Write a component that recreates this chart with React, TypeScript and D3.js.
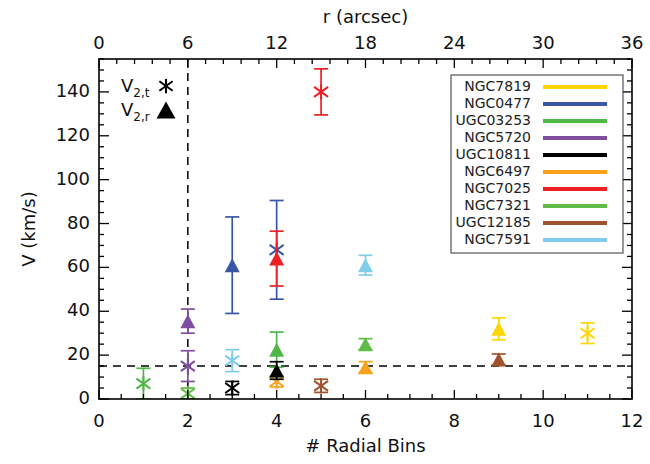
import React from "react";
import * as d3 from "d3";

const galaxies = ["NGC7819","NGC0477","UGC03253","NGC5720","UGC10811","NGC6497","NGC7025","NGC7321","UGC12185","NGC7591"];
const colors = ["#FFD600","#3A55A4","#4DB848","#7E4FA0","#000000","#F7A21C","#EE1F25","#5FBC47","#A0522D","#7FCDEB"];

// V2,t (asterisks)
const tBins = [11, 4, 1, 2, 3, 4, 5, 2, 5, 3];
const tV = [30, 68, 7, 15, 5, 8, 140, 2.5, 6, 17.5];
const tErr = [4.7, 22.5, 7, 7, 3, 2.5, 10.5, 2.5, 3, 5];
// V2,r (triangles)
const rBins = [9, 3, 4, 2, 4, 6, 4, 6, 9, 6];
const rV = [32, 61, 22.5, 35.5, 13, 14.5, 64, 25, 18, 61];
const rErr = [5, 22, 8, 5.5, 4, 2.5, 12.5, 2.5, 2.5, 4.5];

const xMajor = [0, 2, 4, 6, 8, 10, 12];
const rMajor = [0, 6, 12, 18, 24, 30, 36];
const yMajor = [0, 20, 40, 60, 80, 100, 120, 140];
const hLine = 15;
const vLine = 2;

const L = 99, R = 632, T = 59, B = 399;
const FONT = "'DejaVu Sans', sans-serif";

function Asterisk({ cx, cy, color, s = 1 }: any) {
  const v = 7.5 * s, dx = 7 * s, dy = 5 * s;
  return (
    <g stroke={color} strokeWidth={2}>
      <line x1={cx} y1={cy - v} x2={cx} y2={cy + v} />
      <line x1={cx - dx} y1={cy - dy} x2={cx + dx} y2={cy + dy} />
      <line x1={cx - dx} y1={cy + dy} x2={cx + dx} y2={cy - dy} />
    </g>
  );
}

function Triangle({ cx, cy, color, w = 15, h = 14 }: any) {
  const p = `${cx - w / 2},${cy + h / 2} ${cx + w / 2},${cy + h / 2} ${cx},${cy - h / 2}`;
  return <polygon points={p} fill={color} stroke="none" />;
}

function ErrBar({ cx, y0, y1, color }: any) {
  return (
    <g stroke={color} strokeWidth={1.7}>
      <line x1={cx} y1={y0} x2={cx} y2={y1} />
      <line x1={cx - 7} y1={y0} x2={cx + 7} y2={y0} />
      <line x1={cx - 7} y1={y1} x2={cx + 7} y2={y1} />
    </g>
  );
}

export default function App() {
  const x = d3.scaleLinear().domain([0, 12]).range([L, R]);
  const xr = d3.scaleLinear().domain([0, 36]).range([L, R]);
  const y = d3.scaleLinear().domain([0, 155]).range([B, T]);

  const xMinor = d3.range(0, 12.001, 0.5);
  const rMinor = d3.range(0, 36.001, 1.2);
  const yMinor = d3.range(0, 155.001, 5);

  const idx = d3.range(galaxies.length);

  return (
    <svg width={650} height={464} style={{ position: "absolute", left: 0, top: 0, background: "#fff" }} fontFamily={FONT}>
      <defs>
        <clipPath id="plot">
          <rect x={L} y={T} width={R - L} height={B - T} />
        </clipPath>
      </defs>
      {/* dashed reference lines */}
      <g stroke="#000" strokeWidth={1.5} strokeDasharray="8,6" clipPath="url(#plot)">
        <line x1={L} x2={R} y1={y(hLine)} y2={y(hLine)} />
        <line x1={x(vLine)} x2={x(vLine)} y1={T} y2={B} />
      </g>
      {/* data */}
      <g clipPath="url(#plot)">
        {idx.map((i) => (
          <g key={"t" + i}>
            <ErrBar cx={x(tBins[i])} y0={y(tV[i] + tErr[i])} y1={y(tV[i] - tErr[i])} color={colors[i]} />
            <Asterisk cx={x(tBins[i])} cy={y(tV[i])} color={colors[i]} />
          </g>
        ))}
        {idx.map((i) => (
          <g key={"r" + i}>
            <ErrBar cx={x(rBins[i])} y0={y(rV[i] + rErr[i])} y1={y(rV[i] - rErr[i])} color={colors[i]} />
            <Triangle cx={x(rBins[i])} cy={y(rV[i])} color={colors[i]} />
          </g>
        ))}
      </g>
      {/* frame */}
      <rect x={L} y={T} width={R - L} height={B - T} fill="none" stroke="#000" strokeWidth={1.6} />
      {/* ticks */}
      <g stroke="#000" strokeWidth={1.3}>
        {xMinor.map((v) => {
          const len = xMajor.includes(v) ? 9 : 5;
          return <line key={"xb" + v} x1={x(v)} x2={x(v)} y1={B} y2={B - len} />;
        })}
        {rMinor.map((v) => {
          const major = rMajor.some((m) => Math.abs(m - v) < 1e-6);
          const len = major ? 9 : 5;
          return <line key={"xt" + v} x1={xr(v)} x2={xr(v)} y1={T} y2={T + len} />;
        })}
        {yMinor.map((v) => {
          const len = yMajor.includes(v) ? 10 : 5;
          return (
            <g key={"y" + v}>
              <line x1={L} x2={L + len} y1={y(v)} y2={y(v)} />
              <line x1={R} x2={R - len} y1={y(v)} y2={y(v)} />
            </g>
          );
        })}
      </g>
      {/* tick labels */}
      <g fontSize={18} fill="#111">
        {xMajor.map((v) => (
          <text key={"xl" + v} x={x(v)} y={B + 23} textAnchor="middle" dominantBaseline="middle">{v}</text>
        ))}
        {rMajor.map((v) => (
          <text key={"rl" + v} x={xr(v)} y={T - 15} textAnchor="middle" dominantBaseline="middle">{v}</text>
        ))}
        {yMajor.map((v) => (
          <text key={"yl" + v} x={L - 9} y={y(v)} textAnchor="end" dominantBaseline="middle">{v}</text>
        ))}
      </g>
      {/* axis titles */}
      <g fontSize={18} fill="#111">
        <text x={(L + R) / 2} y={447} textAnchor="middle" dominantBaseline="middle"># Radial Bins</text>
        <text x={(L + R) / 2} y={18} textAnchor="middle" dominantBaseline="middle">r (arcsec)</text>
        <text transform={`translate(30,${(T + B) / 2}) rotate(-90)`} textAnchor="middle" dominantBaseline="middle">V (km/s)</text>
      </g>
      {/* symbol key */}
      <g fill="#111">
        <text x={121} y={92} fontSize={18}>V<tspan fontSize={12} dy={5}>2,t</tspan></text>
        <text x={121} y={116} fontSize={18}>V<tspan fontSize={12} dy={5}>2,r</tspan></text>
        <Asterisk cx={166} cy={86} color="#000" s={0.95} />
        <Triangle cx={166} cy={110} color="#000" w={19} h={17} />
      </g>
      {/* legend */}
      <rect x={451} y={75} width={172} height={178} fill="#fff" stroke="#333" strokeWidth={1} />
      {idx.map((i) => (
        <g key={"lg" + i}>
          <text x={531} y={87 + 17 * i} fontSize={14} textAnchor="end" dominantBaseline="middle" fill="#222">{galaxies[i]}</text>
          <line x1={543} x2={607} y1={87 + 17 * i} y2={87 + 17 * i} stroke={colors[i]} strokeWidth={4} />
        </g>
      ))}
    </svg>
  );
}
